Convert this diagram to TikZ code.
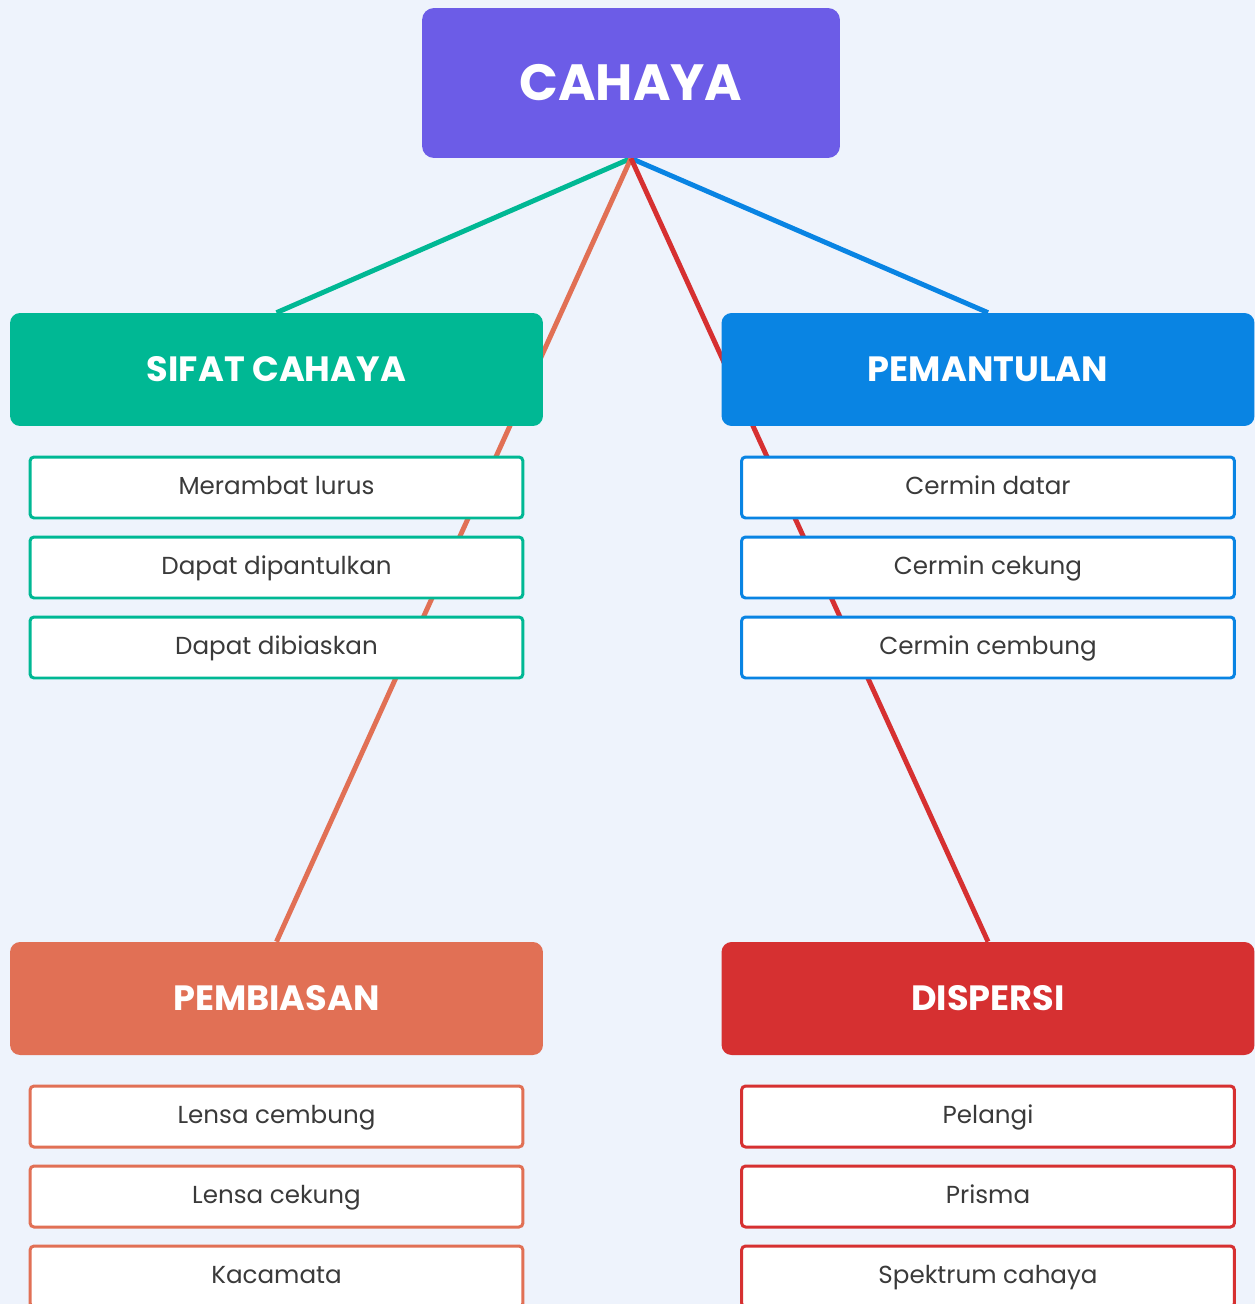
\documentclass[tikz,border=0pt]{standalone}
\usepackage{fontspec}
\setmainfont{Poppins}
\usetikzlibrary{backgrounds}

\definecolor{fond}{HTML}{EEF3FC}
\definecolor{violet}{HTML}{6C5CE7}
\definecolor{vert}{HTML}{00B894}
\definecolor{bleu}{HTML}{0984E3}
\definecolor{orange}{HTML}{E17055}
\definecolor{rouge}{HTML}{D63031}
\definecolor{texte}{HTML}{3A3A3A}

\begin{document}
\begin{tikzpicture}[x=0.02cm,y=-0.02cm,
    racine/.style={fill=violet, rounded corners=0.24cm, minimum width=8.36cm, minimum height=3cm,
        text=white, font=\fontsize{29}{34}\selectfont\bfseries},
    branche/.style={fill=#1, rounded corners=0.2cm, minimum width=10.66cm, minimum height=2.26cm,
        text=white, font=\fontsize{20}{24}\selectfont\bfseries},
    element/.style={draw=#1, line width=1.7pt, fill=white, rounded corners=0.08cm,
        minimum width=9.86cm, minimum height=1.22cm, text height=1.6ex, text depth=0.2ex,
        text=texte, font=\fontsize{14}{17}\selectfont},
    lien/.style={draw=#1, line width=2.8pt}]

    % Cadre de la page
    \clip (0,0) rectangle (1255,1304);

    % Noeud principal
    \node[racine] (cahaya) at (631,83) {CAHAYA};

    % Les quatre branches
    \node[branche=vert] (sifat) at (276.5,369.5) {SIFAT CAHAYA};
    \node[branche=bleu] (pantul) at (988,369.5) {PEMANTULAN};
    \node[branche=orange] (bias) at (276.5,998.5) {PEMBIASAN};
    \node[branche=rouge] (dispersi) at (988,998.5) {DISPERSI};

    % Elements de chaque branche
    \foreach \txt [count=\i] in {Merambat lurus, Dapat dipantulkan, Dapat dibiaskan}
        \node[element=vert] (sifat\i) at (276.5,407.5+\i*80) {\txt};
    \foreach \txt [count=\i] in {Cermin datar, Cermin cekung, Cermin cembung}
        \node[element=bleu] (pantul\i) at (988,407.5+\i*80) {\txt};
    \foreach \txt [count=\i] in {Lensa cembung, Lensa cekung, Kacamata}
        \node[element=orange] (bias\i) at (276.5,1036.5+\i*80) {\txt};
    \foreach \txt [count=\i] in {Pelangi, Prisma, Spektrum cahaya}
        \node[element=rouge] (dispersi\i) at (988,1036.5+\i*80) {\txt};

    % Liens (derriere les boites)
    \begin{scope}[on background layer]
        \fill[fond] (0,0) rectangle (1255,1304);
        \draw[lien=vert] (cahaya.south) -- (sifat.north);
        \draw[lien=bleu] (cahaya.south) -- (pantul.north);
        \draw[lien=orange] (cahaya.south) -- (bias.north);
        \draw[lien=rouge] (cahaya.south) -- (dispersi.north);
    \end{scope}
\end{tikzpicture}
\end{document}
